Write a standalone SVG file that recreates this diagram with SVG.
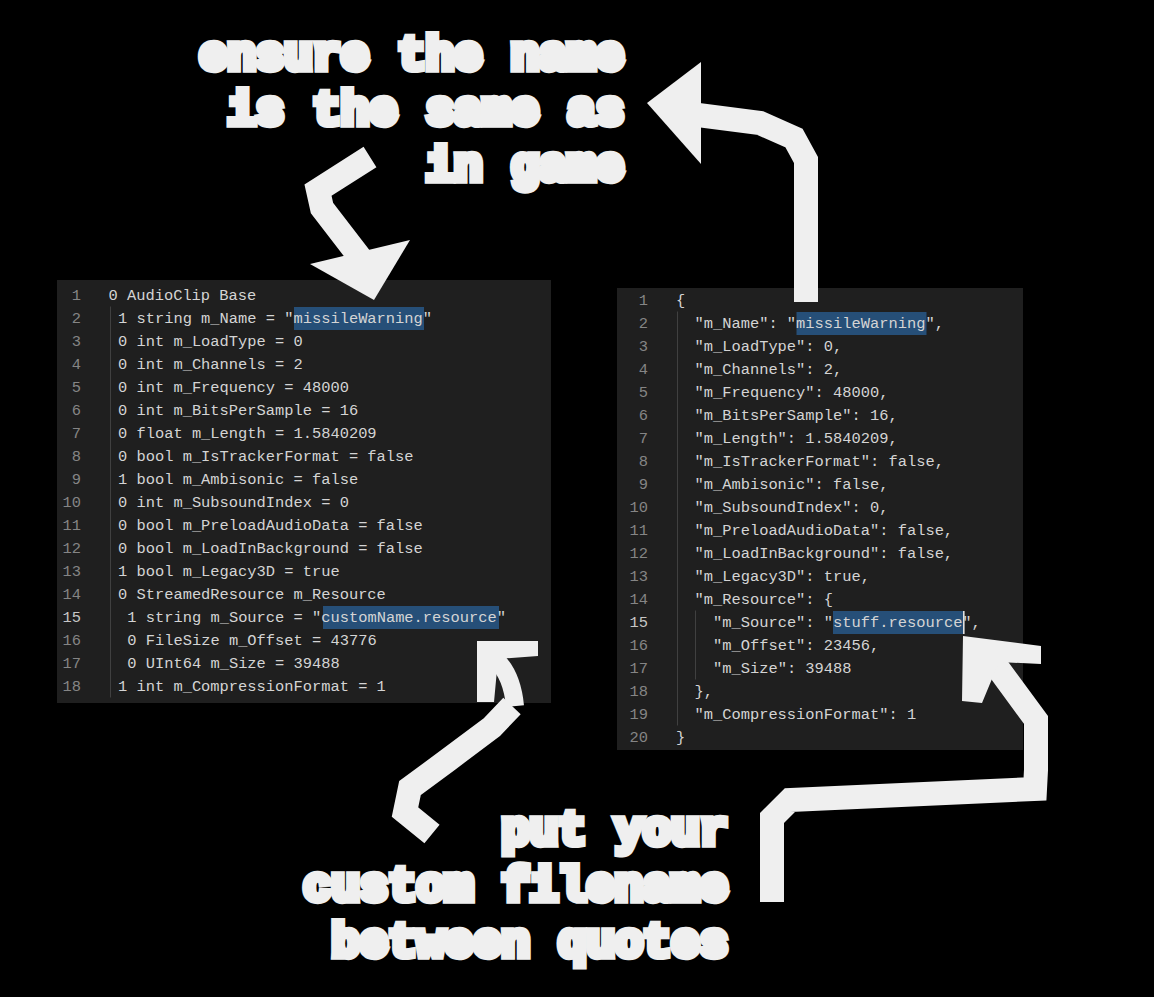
<svg xmlns="http://www.w3.org/2000/svg" width="1154" height="997" viewBox="0 0 1154 997">
<style>
.bg{fill:#000}
.panel{fill:#1f1f1f}
.code{font-family:"Liberation Mono","DejaVu Sans Mono",monospace;font-size:15.4px;fill:#d4d4d4}
.ln{font-family:"Liberation Mono","DejaVu Sans Mono",monospace;font-size:15.4px;fill:#858585;text-anchor:end}
.ln .cur{fill:#c6c6c6}
.hl{fill:#264f78}
.guide{stroke:#404040;stroke-width:1}
.big{font-family:"Liberation Mono","DejaVu Sans Mono",monospace;font-weight:bold;font-size:47.2px;fill:#efefef;stroke:#efefef;stroke-width:7.5;stroke-linejoin:miter;text-anchor:end;text-rendering:geometricPrecision}
.arrow{fill:none;stroke:#efefef;stroke-width:24;stroke-linejoin:miter;stroke-linecap:butt}
.head{fill:#efefef}
</style>
<rect class="bg" x="0" y="0" width="1154" height="997"/>

<g id="left-panel">
<rect class="panel" x="57" y="280" width="494" height="423"/>
<rect class="hl" x="294" y="307" width="130" height="23"/>
<rect class="hl" x="323" y="606" width="176" height="23"/>
<line class="guide" x1="110.5" y1="306.5" x2="110.5" y2="697.5"/>
<g class="ln">
<text x="81" y="300.4">1</text><text x="81" y="323.4">2</text><text x="81" y="346.4">3</text><text x="81" y="369.4">4</text><text x="81" y="392.4">5</text><text x="81" y="415.4">6</text><text x="81" y="438.4">7</text><text x="81" y="461.4">8</text><text x="81" y="484.4">9</text><text x="81" y="507.4">10</text><text x="81" y="530.4">11</text><text x="81" y="553.4">12</text><text x="81" y="576.4">13</text><text x="81" y="599.4">14</text><text class="cur" x="81" y="622.4">15</text><text x="81" y="645.4">16</text><text x="81" y="668.4">17</text><text x="81" y="691.4">18</text>
</g>
<g class="code">
<text x="108.5" y="300.4">0 AudioClip Base</text>
<text x="118" y="323.4">1 string m_Name = "missileWarning"</text>
<text x="118" y="346.4">0 int m_LoadType = 0</text>
<text x="118" y="369.4">0 int m_Channels = 2</text>
<text x="118" y="392.4">0 int m_Frequency = 48000</text>
<text x="118" y="415.4">0 int m_BitsPerSample = 16</text>
<text x="118" y="438.4">0 float m_Length = 1.5840209</text>
<text x="118" y="461.4">0 bool m_IsTrackerFormat = false</text>
<text x="118" y="484.4">1 bool m_Ambisonic = false</text>
<text x="118" y="507.4">0 int m_SubsoundIndex = 0</text>
<text x="118" y="530.4">0 bool m_PreloadAudioData = false</text>
<text x="118" y="553.4">0 bool m_LoadInBackground = false</text>
<text x="118" y="576.4">1 bool m_Legacy3D = true</text>
<text x="118" y="599.4">0 StreamedResource m_Resource</text>
<text x="127.3" y="622.4">1 string m_Source = "customName.resource"</text>
<text x="127.3" y="645.4">0 FileSize m_Offset = 43776</text>
<text x="127.3" y="668.4">0 UInt64 m_Size = 39488</text>
<text x="118" y="691.4">1 int m_CompressionFormat = 1</text>
</g>
</g>

<g id="right-panel">
<rect class="panel" x="617" y="288" width="406" height="462"/>
<rect class="hl" x="796.5" y="312" width="130" height="23"/>
<rect class="hl" x="833" y="611" width="130" height="23"/>
<rect x="963" y="611" width="1.6" height="23" fill="#e0e0e0"/>
<line class="guide" x1="677.5" y1="311.5" x2="677.5" y2="725.5"/>
<line class="guide" x1="695.5" y1="610.5" x2="695.5" y2="679.5"/>
<g class="ln">
<text x="648" y="305.4">1</text><text x="648" y="328.4">2</text><text x="648" y="351.4">3</text><text x="648" y="374.4">4</text><text x="648" y="397.4">5</text><text x="648" y="420.4">6</text><text x="648" y="443.4">7</text><text x="648" y="466.4">8</text><text x="648" y="489.4">9</text><text x="648" y="512.4">10</text><text x="648" y="535.4">11</text><text x="648" y="558.4">12</text><text x="648" y="581.4">13</text><text x="648" y="604.4">14</text><text class="cur" x="648" y="627.4">15</text><text x="648" y="650.4">16</text><text x="648" y="673.4">17</text><text x="648" y="696.4">18</text><text x="648" y="719.4">19</text><text x="648" y="742.4">20</text>
</g>
<g class="code">
<text x="676" y="305.4">{</text>
<text x="694.5" y="328.4">"m_Name": "missileWarning",</text>
<text x="694.5" y="351.4">"m_LoadType": 0,</text>
<text x="694.5" y="374.4">"m_Channels": 2,</text>
<text x="694.5" y="397.4">"m_Frequency": 48000,</text>
<text x="694.5" y="420.4">"m_BitsPerSample": 16,</text>
<text x="694.5" y="443.4">"m_Length": 1.5840209,</text>
<text x="694.5" y="466.4">"m_IsTrackerFormat": false,</text>
<text x="694.5" y="489.4">"m_Ambisonic": false,</text>
<text x="694.5" y="512.4">"m_SubsoundIndex": 0,</text>
<text x="694.5" y="535.4">"m_PreloadAudioData": false,</text>
<text x="694.5" y="558.4">"m_LoadInBackground": false,</text>
<text x="694.5" y="581.4">"m_Legacy3D": true,</text>
<text x="694.5" y="604.4">"m_Resource": {</text>
<text x="713" y="627.4">"m_Source": "stuff.resource",</text>
<text x="713" y="650.4">"m_Offset": 23456,</text>
<text x="713" y="673.4">"m_Size": 39488</text>
<text x="694.5" y="696.4">},</text>
<text x="694.5" y="719.4">"m_CompressionFormat": 1</text>
<text x="676" y="742.4">}</text>
</g>
</g>

<g id="note-top">
<text class="big" x="624" y="68.5">ensure the name</text>
<text class="big" x="624" y="124">is the same as</text>
<text class="big" x="624" y="180">in game</text>
</g>

<g id="note-bottom">
<text class="big" x="728" y="844">put your</text>
<text class="big" x="728" y="900">custom filename</text>
<text class="big" x="728" y="956">between quotes</text>
</g>

<g id="connectors">
<path class="arrow" d="M370,157 L318,190 L322,208 L362,260"/>
<polygon class="head" points="310,264 410,240 374,300"/>

<path class="arrow" d="M806,302 L806,160 L794,138 L760,123 L698,115"/>
<polygon class="head" points="647,103 701,62 701,164"/>

<path class="arrow" d="M432,834 L405,812 L410,788 L448,760 L492,727 L512,706"/>
<path class="arrow" style="stroke-width:18" d="M515,706 Q512,675 496,660"/>
<polygon class="head" points="477,641 538,641 538,656 498,659 494,702 477,702"/>

<path class="arrow" d="M772,902 L772,818 L790,800 L1035,789 L1036,770 L1036,720 L992,660"/>
<polygon class="head" points="963,636 1041,646 1041,664 999,662 982,703 962,701"/>
</g>
</svg>
